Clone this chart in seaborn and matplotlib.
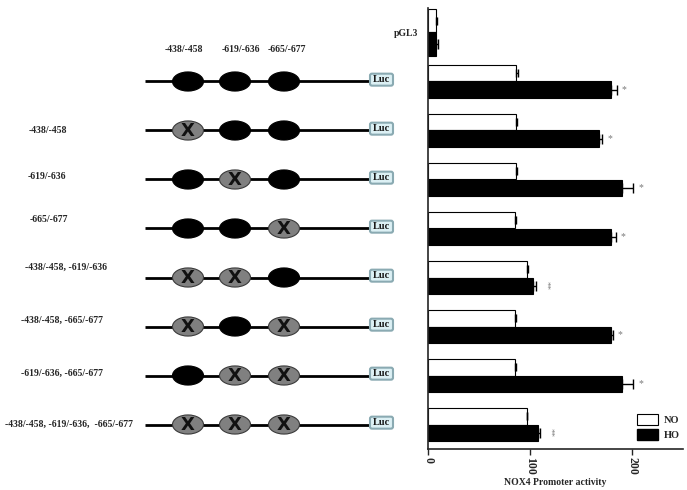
import numpy as np
import pandas as pd
import matplotlib
matplotlib.use('Agg')
import matplotlib.pyplot as plt
from matplotlib.patches import Ellipse, FancyBboxPatch, Patch
import seaborn as sns

# data
constructs = ["pGL3", "WT", "-438/-458", "-619/-636", "-665/-677",
              "-438/-458, -619/-636", "-438/-458, -665/-677",
              "-619/-636, -665/-677", "-438/-458, -619/-636,  -665/-677"]
no_vals = [8, 86, 86, 86, 85, 97, 85, 85, 97]
ho_vals = [8, 179, 168, 190, 179, 103, 179, 190, 108]
no_err = [1, 2, 1, 1, 1, 1.5, 1, 1, 0.5]
ho_err = [1.5, 6, 3, 11, 5, 3, 2, 11, 2]
stars = ["", "*", "*", "*", "*", "**", "*", "*", "**"]
# which binding sites are mutated in each construct (rows after pGL3)
mutated = [[0, 0, 0], [1, 0, 0], [0, 1, 0], [0, 0, 1],
           [1, 1, 0], [1, 0, 1], [0, 1, 1], [1, 1, 1]]
site_labels = ["-438/-458", "-619/-636", "-665/-677"]

sns.set_style("ticks")
plt.rcParams['font.family'] = ['Liberation Serif', 'DejaVu Serif']

df = pd.DataFrame({
    "construct": constructs * 2,
    "condition": ["NO"] * len(constructs) + ["HO"] * len(constructs),
    "value": no_vals + ho_vals,
})
pal = {"NO": "white", "HO": "black"}

fig = plt.figure(figsize=(6.87, 4.90), dpi=100)
ax = fig.add_axes([428 / 687, 1 - 449 / 490, 255 / 687, 441 / 490])

w_first, w_rest = 0.97, 0.68
sns.barplot(data=df[df.construct == "pGL3"], y="construct", x="value", hue="condition",
            order=constructs, hue_order=["NO", "HO"], palette=pal, orient="h",
            width=w_first, edgecolor="black", linewidth=0.8, errorbar=None,
            legend=False, ax=ax)
sns.barplot(data=df[df.construct != "pGL3"], y="construct", x="value", hue="condition",
            order=constructs, hue_order=["NO", "HO"], palette=pal, orient="h",
            width=w_rest, edgecolor="black", linewidth=0.8, errorbar=None,
            legend=False, ax=ax)

idx = np.arange(len(constructs))
widths = np.array([w_first] + [w_rest] * (len(constructs) - 1))
y_no = idx - widths / 4
y_ho = idx + widths / 4
ax.errorbar(no_vals, y_no, xerr=[np.zeros(len(idx)), no_err], fmt="none",
            ecolor="black", elinewidth=1, capsize=3, capthick=1)
ax.errorbar(ho_vals, y_ho, xerr=[np.zeros(len(idx)), ho_err], fmt="none",
            ecolor="black", elinewidth=1, capsize=3.5, capthick=1)
for i in idx:
    if stars[i] == "*":
        ax.text(ho_vals[i] + ho_err[i] + 5, y_ho[i], "*", fontsize=7,
                color="#7a7a7a", va="center", ha="left")
    elif stars[i] == "**":
        ax.text(ho_vals[i] + ho_err[i] + 5, y_ho[i], "**", fontsize=6.5,
                color="#7a7a7a", va="center", ha="left", rotation=-90)

ax.set_xlim(0, 250)
ax.set_ylim(len(constructs) - 0.5, -0.5)
ax.set_xticks([0, 100, 200])
ax.set_xticklabels(["0", "100", "200"], rotation=-90, fontsize=8.5, fontweight="bold")
ax.set_yticks(idx)
ax.set_yticklabels(["pGL3"] + [""] * (len(constructs) - 1), fontsize=7, fontweight="bold")
ax.tick_params(axis="y", length=0, pad=7)
ax.tick_params(axis="x", length=4, width=1, pad=2)
ax.set_xlabel("NOX4 Promoter activity", fontsize=7, fontweight="bold", labelpad=2)
ax.set_ylabel("")
sns.despine(ax=ax)
ax.spines["left"].set_linewidth(1.2)
ax.spines["bottom"].set_linewidth(1.2)

handles = [Patch(facecolor="white", edgecolor="black", linewidth=0.8, label="NO"),
           Patch(facecolor="black", edgecolor="black", label="HO")]
ax.legend(handles=handles, loc="lower left", bbox_to_anchor=(0.82, 0.02),
          frameon=False, prop={"weight": "bold", "size": 7.5},
          handlelength=2.0, handleheight=1.3, handletextpad=0.6,
          borderpad=0, borderaxespad=0, labelspacing=0.35)

# construct diagrams, drawn in a pixel-wide axes sharing the category rows
axd = fig.add_axes([0, 1 - 449 / 490, 428 / 687, 441 / 490])
axd.set_xlim(0, 428)
axd.set_ylim(ax.get_ylim())
axd.axis("off")

site_x = [188, 235, 284]
label_x = [29, 28, 30, 25, 21, 21, 5]
label_dy = [0, -0.06, -0.18, -0.2, -0.12, -0.04, 0]
for x, lab in zip([184, 241, 287], site_labels):
    axd.text(x, 0.35, lab, ha="center", va="center", fontsize=7, fontweight="bold")
for r, muts in enumerate(mutated):
    y = r + 1
    axd.plot([145, 369], [y, y], color="black", lw=2, solid_capstyle="butt", zorder=1)
    for sx, m in zip(site_x, muts):
        if m:
            axd.add_patch(Ellipse((sx, y), 31, 0.39, facecolor="#808080",
                                  edgecolor="#3a3a3a", lw=0.8, zorder=2))
            axd.text(sx, y + 0.02, "X", ha="center", va="center", fontsize=13,
                     fontweight="bold", family="DejaVu Sans", color="#111111", zorder=3)
        else:
            axd.add_patch(Ellipse((sx, y), 31, 0.39, facecolor="black",
                                  edgecolor="black", lw=0.8, zorder=2))
    axd.add_patch(FancyBboxPatch((370, y - 0.16), 23, 0.245,
                                 boxstyle="round,pad=0,rounding_size=2",
                                 mutation_aspect=0.02,
                                 facecolor="#dcf0f4", edgecolor="#8aaab2", lw=1.5, zorder=2))
    axd.text(381.5, y - 0.04, "Luc", ha="center", va="center", fontsize=7.5,
             fontweight="bold", color="#1a1a1a", zorder=3)
    if r > 0:
        axd.text(label_x[r - 1], y + label_dy[r - 1], constructs[y], ha="left",
                 va="center", fontsize=7, fontweight="bold")

fig.savefig("out.png", dpi=100)
